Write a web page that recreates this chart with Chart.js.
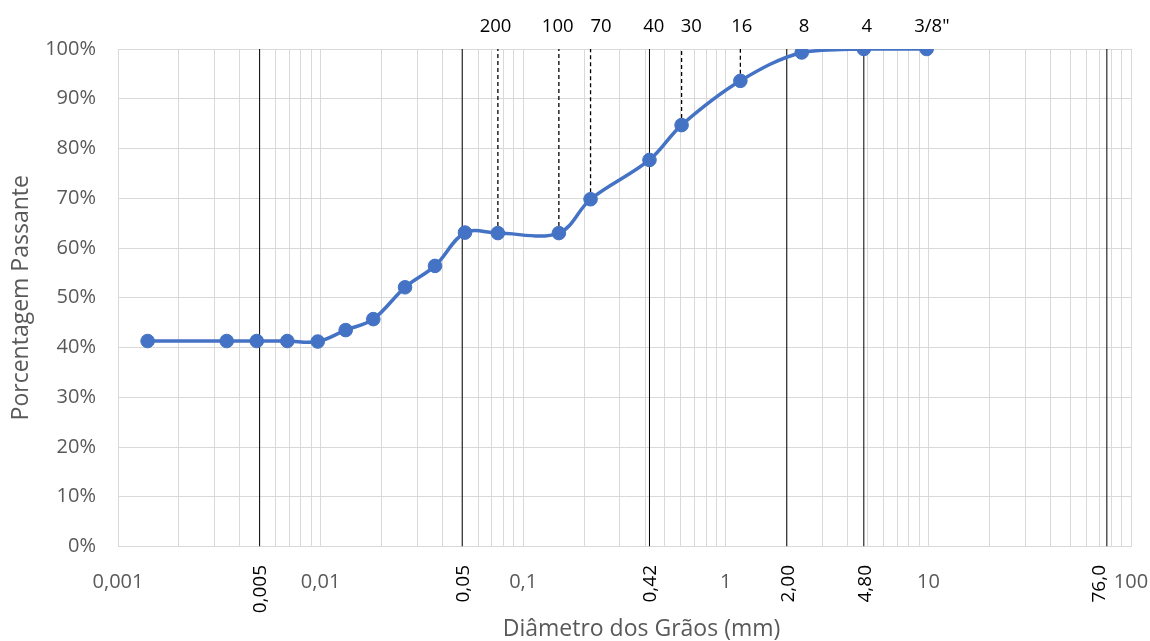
<!DOCTYPE html>
<html>
<head>
<meta charset="utf-8">
<script src="https://cdn.jsdelivr.net/npm/chart.js@4.4.1/dist/chart.umd.min.js"></script>
<style>
  html, body { margin: 0; padding: 0; background: #ffffff; }
  canvas { display: block; }
</style>
</head>
<body>
<canvas id="c" width="1150" height="641"></canvas>
<script>
// ---------- data ----------
const diameters = [0.0014, 0.00344, 0.00484, 0.00685, 0.00968, 0.0133, 0.0182, 0.0261, 0.0367, 0.0516,
                   0.075, 0.15, 0.215, 0.42, 0.605, 1.18, 2.37, 4.8, 9.8];
const passing   = [41.3, 41.3, 41.3, 41.3, 41.2, 43.5, 45.7, 52.1, 56.4, 63.1,
                   63.0, 63.0, 69.8, 77.7, 84.7, 93.6, 99.3, 100, 100];

// solid reference lines (full height) and their rotated labels
const solidLines   = [0.005, 0.05, 0.42, 2.0, 4.8, 76.0];
const solidLabels  = ['0,005', '0,05', '0,42', '2,00', '4,80', '76,0'];
const solidLabelAt = [0.005, 0.05, 0.42, 2.0, 4.8, 69];

// dashed sieve lines (from 100% down to the curve)
const dashedLines = [0.075, 0.15, 0.215, 0.605, 1.18];
const dashedEnds  = [63.0, 63.0, 69.8, 84.7, 93.6];

// sieve labels along the top
const sieveLabels = ['200', '100', '70', '40', '30', '16', '8', '4', '3/8"'];
const sieveLabelAt = [0.073, 0.148, 0.242, 0.441, 0.675, 1.2, 2.43, 4.97, 10.4];

// decade tick labels on the x axis
const decadeTicks  = [0.001, 0.01, 0.1, 1, 10, 100];
const decadeLabels = ['0,001', '0,01', '0,1', '1', '10', '100'];

const yTicks = [0, 10, 20, 30, 40, 50, 60, 70, 80, 90, 100];

// ---------- styles ----------
const FONT = '"Open Sans", "Liberation Sans", sans-serif';
const GRAY = '#595959';
const GRID = '#d9d9d9';
const BLUE = '#4472C4';

const datasets = [{
  data: diameters.map((d, i) => ({ x: d, y: passing[i] })),
  borderColor: BLUE,
  backgroundColor: BLUE,
  borderWidth: 3.5,
  pointRadius: 6.8,
  pointBorderWidth: 1,
  pointBorderColor: BLUE,
  pointBackgroundColor: BLUE,
  tension: 0.35,
  fill: false
}];
solidLines.forEach(v => datasets.push({
  data: [{ x: v, y: 0 }, { x: v, y: 100 }],
  borderColor: '#000000', borderWidth: 1, pointRadius: 0, tension: 0, fill: false
}));
dashedLines.forEach((v, i) => datasets.push({
  data: [{ x: v, y: dashedEnds[i] }, { x: v, y: 100 }],
  borderColor: '#000000', borderWidth: 1.3, borderDash: [4, 3], pointRadius: 0, tension: 0, fill: false
}));

const textPlugin = {
  id: 'texts',
  afterDraw(chart) {
    const ctx = chart.ctx;
    const xs = chart.scales.x;
    const area = chart.chartArea;
    ctx.save();
    // decade labels
    ctx.fillStyle = GRAY;
    ctx.font = '20px ' + FONT;
    ctx.textAlign = 'center';
    ctx.textBaseline = 'alphabetic';
    decadeTicks.forEach((v, i) => {
      ctx.fillText(decadeLabels[i], xs.getPixelForValue(v), 587.5);
    });
    // rotated labels for solid lines
    ctx.fillStyle = '#000000';
    ctx.font = '19px ' + FONT;
    solidLabelAt.forEach((v, i) => {
      ctx.save();
      ctx.translate(xs.getPixelForValue(v), 565);
      ctx.rotate(-Math.PI / 2);
      ctx.textAlign = 'right';
      ctx.textBaseline = 'alphabetic';
      ctx.fillText(solidLabels[i], 0, 6.8);
      ctx.restore();
    });
    // sieve labels on top
    ctx.font = '18.5px ' + FONT;
    ctx.textAlign = 'center';
    ctx.textBaseline = 'alphabetic';
    sieveLabels.forEach((t, i) => {
      ctx.fillText(t, xs.getPixelForValue(sieveLabelAt[i]), 31.5);
    });
    // axis titles
    ctx.fillStyle = GRAY;
    ctx.font = '23px ' + FONT;
    ctx.fillText('Diâmetro dos Grãos (mm)', (area.left + area.right) / 2 + 17, 636);
    ctx.save();
    ctx.translate(28.3, (area.top + area.bottom) / 2);
    ctx.rotate(-Math.PI / 2);
    ctx.textAlign = 'center';
    ctx.fillText('Porcentagem Passante', 0, 0);
    ctx.restore();
    ctx.restore();
  }
};

new Chart(document.getElementById('c'), {
  type: 'line',
  data: { datasets },
  options: {
    responsive: false,
    devicePixelRatio: 1,
    animation: false,
    layout: { padding: { left: 0, right: 19, top: 49, bottom: 94.5 } },
    plugins: { legend: { display: false }, tooltip: { enabled: false } },
    scales: {
      x: {
        type: 'logarithmic',
        min: 0.001,
        max: 100,
        afterBuildTicks(scale) {
          const t = [];
          for (let e = -3; e <= 1; e++) {
            for (let m = 1; m <= 9; m++) t.push({ value: m * Math.pow(10, e) });
          }
          t.push({ value: 100 });
          scale.ticks = t;
        },
        afterFit(scale) { scale.height = 0; },
        ticks: { display: false },
        grid: { color: GRID, lineWidth: 1, drawTicks: false },
        border: { display: false }
      },
      y: {
        min: 0,
        max: 100,
        afterBuildTicks(scale) { scale.ticks = yTicks.map(v => ({ value: v })); },
        afterFit(scale) { scale.width = 118; },
        ticks: {
          callback: v => v + '%',
          color: GRAY,
          font: { family: FONT, size: 20 },
          padding: 22
        },
        grid: { color: GRID, lineWidth: 1, drawTicks: false },
        border: { display: false }
      }
    }
  },
  plugins: [textPlugin]
});
</script>
</body>
</html>
